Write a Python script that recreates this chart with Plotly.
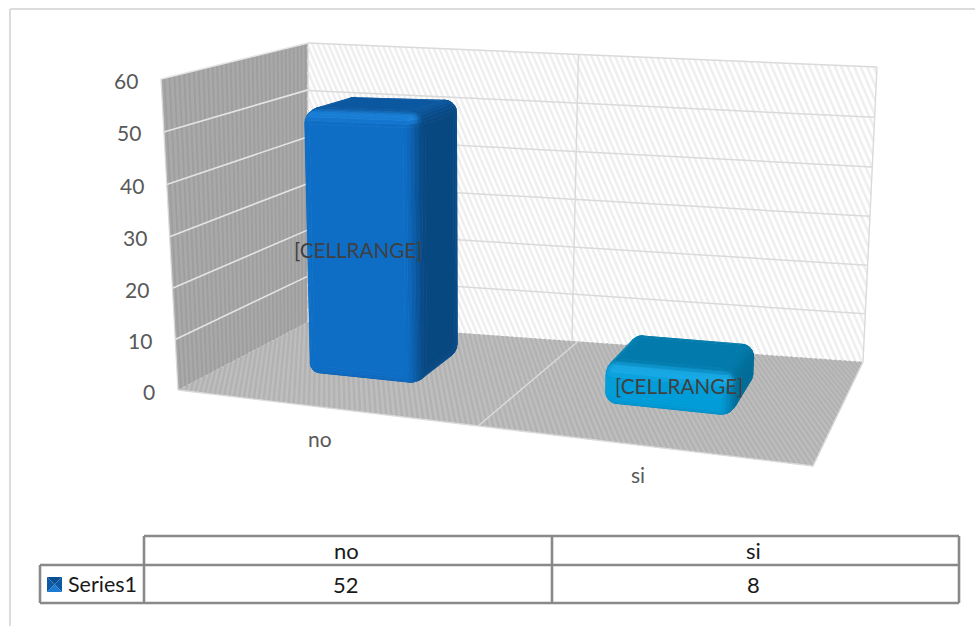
import numpy as np
import plotly.graph_objects as go

# chart data
categories = ["no", "si"]
series_name = "Series1"
series_values = [52, 8]
value_ticks = [0, 10, 20, 30, 40, 50, 60]
data_labels = ["[CELLRANGE]", "[CELLRANGE]"]
VALUE_MAX = 60

W, H = 975, 626
FONT = "Lato"

# box coordinates are (across, depth, height), each 0..1; these tie the box to the canvas
LEFT_WALL = [((0, 0), (178, 390)), ((1, 0), (308, 322)), ((1, 1), (308, 43)), ((0, 1), (161, 79))]
BACK_WALL = [((0, 0), (308, 322)), ((1, 0), (863, 362)), ((1, 1), (877, 67)), ((0, 1), (308, 43))]
FLOOR = [((0, 0), (178, 390)), ((1, 0), (813, 466)), ((1, 1), (863, 362)), ((0, 1), (308, 322))]
# softening of the perspective foreshortening along each box axis
LEFT_EASE = (0, 0, 0.095)
BACK_EASE = (-0.04, 0, 0)
FLOOR_EASE = (0.22, 0, 0)

# column footprint in box coordinates
BAR_HALF = 0.1
BAR_FRONT, BAR_BACK = 0.3, 0.7
COLUMN_VIEW = [
    ((0.15, 0.3, 0), (302, 377)), ((0.35, 0.3, 0), (425, 391)), ((0.35, 0.7, 0), (465, 353)),
    ((0.15, 0.3, 52 / 60), (295, 109)), ((0.35, 0.3, 52 / 60), (421, 116)),
    ((0.35, 0.7, 52 / 60), (461, 101)), ((0.15, 0.7, 52 / 60), (351, 93)),
    ((0.65, 0.3, 0), (592, 407)), ((0.85, 0.3, 0), (733, 428)), ((0.85, 0.7, 0), (757, 384)),
    ((0.65, 0.3, 8 / 60), (594, 363)), ((0.85, 0.3, 8 / 60), (737, 373)),
    ((0.85, 0.7, 8 / 60), (758, 339)), ((0.65, 0.7, 8 / 60), (635, 326)),
]


def solve_box_view(points):
    rows = []
    for (a, b, c), (x, y) in points:
        rows.append([a, b, c, 1, 0, 0, 0, 0, -x * a, -x * b, -x * c, -x])
        rows.append([0, 0, 0, 0, a, b, c, 1, -y * a, -y * b, -y * c, -y])
    return np.linalg.svd(np.array(rows, float))[2][-1].reshape(3, 4), (0, 0, 0)


def solve_plane_view(points, axes, ease):
    rows = []
    for (a, b), (x, y) in points:
        rows.append([a, b, 1, 0, 0, 0, -x * a, -x * b, -x])
        rows.append([0, 0, 0, a, b, 1, -y * a, -y * b, -y])
    hm = np.linalg.svd(np.array(rows, float))[2][-1].reshape(3, 3)
    view = np.zeros((3, 4))
    view[:, axes[0]] = hm[:, 0]
    view[:, axes[1]] = hm[:, 1]
    view[:, 3] = hm[:, 2]
    return view, ease


V_LEFT = solve_plane_view(LEFT_WALL, (1, 2), LEFT_EASE)
V_BACK = solve_plane_view(BACK_WALL, (0, 2), BACK_EASE)
V_FLOOR = solve_plane_view(FLOOR, (0, 1), FLOOR_EASE)
V_COLUMN = solve_box_view(COLUMN_VIEW)


def project(points, view):
    matrix, ease = view
    pts = np.atleast_2d(np.asarray(points, float))
    pts = pts + np.array(ease) * pts * (1 - pts)
    hom = matrix @ np.c_[pts, np.ones(len(pts))].T
    return hom[0] / hom[2], hom[1] / hom[2]


def to_box(cat_pos, depth, value):
    """Map category position, depth fraction and axis value to box coordinates."""
    return (cat_pos / len(categories), depth, value / VALUE_MAX)


fig = go.Figure()


def polygon(points, view, fill, width=0.0):
    xs, ys = project(points, view)
    fig.add_trace(go.Scatter(
        x=np.r_[xs, xs[0]], y=np.r_[ys, ys[0]], mode="lines", fill="toself",
        fillcolor=fill, line=dict(color=fill, width=width),
        hoverinfo="skip", showlegend=False))


def polyline(segments, view, color, width):
    xs, ys = [], []
    for seg in segments:
        sx, sy = project(seg, view)
        xs += list(sx) + [None]
        ys += list(sy) + [None]
    fig.add_trace(go.Scatter(x=xs, y=ys, mode="lines", line=dict(color=color, width=width),
                             hoverinfo="skip", showlegend=False))


def clip_unit(p, d):
    t0, t1 = 0.0, 1.0
    for pi, di in zip(p, d):
        if abs(di) < 1e-12:
            if pi < 0 or pi > 1:
                return None
            continue
        a, b = sorted(((0 - pi) / di, (1 - pi) / di))
        t0, t1 = max(t0, a), min(t1, b)
    return (t0, t1) if t0 < t1 else None


def hatch(embed, view, start, stop, step, lean, color, width):
    """Parallel stripes across a wall given by embed(s, t) with s, t in 0..1."""
    segs = []
    for s0 in np.arange(start, stop, step):
        span = clip_unit((s0, 0.0), (lean, 1.0))
        if span:
            segs.append([embed(s0 + lean * span[0], span[0]), embed(s0 + lean * span[1], span[1])])
    polyline(segs, view, color, width)


# walls and floor
polygon([(0, 0, 0), (0, 1, 0), (0, 1, 1), (0, 0, 1)], V_LEFT, "#a9a9a9")
hatch(lambda s, t: (0, s, t), V_LEFT, -0.1, 1.1, 0.03, 0.0, "#9e9e9e", 1.8)
polygon([(0, 1, 0), (1, 1, 0), (1, 1, 1), (0, 1, 1)], V_BACK, "#ffffff")
hatch(lambda s, t: (s, 1, t), V_BACK, -0.02, 1.3, 0.0105, -0.235, "#efefef", 2.6)
polygon([(0, 0, 0), (1, 0, 0), (1, 1, 0), (0, 1, 0)], V_FLOOR, "#bebebe")
hatch(lambda s, t: (s, t, 0), V_FLOOR, -0.02, 1.3, 0.0085, -0.22, "#b2b2b2", 2.4)

# gridlines and wall edges
GRID = "#dadada"
polyline([[to_box(0, 0, v), to_box(0, 1, v)] for v in value_ticks[1:]], V_LEFT, "#e4e4e4", 1.6)
polyline([[to_box(0, 1, v), to_box(2, 1, v)] for v in value_ticks[1:]], V_BACK, GRID, 1.5)
polyline([[(0.5, 1, 0), (0.5, 1, 1)], [(1, 1, 0), (1, 1, 1)]], V_BACK, GRID, 1.4)
polyline([[(0.5, 0, 0), (0.5, 1, 0)], [(0, 0, 0), (1, 0, 0), (1, 1, 0)]], V_FLOOR, GRID, 1.4)
polyline([[(0, 0, 0), (0, 0, 1)], [(0, 1, 0), (0, 1, 1)]], V_LEFT, GRID, 1.2)


def mix(c1, c2, t):
    return tuple(a + (b - a) * t for a, b in zip(c1, c2))


def rounded_column(u0, u1, v0, v1, w1, radii, palette):
    """Rounded column: facets lit by their normal, only camera-facing ones are drawn."""
    rad = np.array(radii)
    lo = np.array([u0, v0, 0.0])
    hi = np.array([u1, v1, w1])
    steps = 6
    quarter = np.linspace(0, np.pi / 2, steps + 1)
    az = np.r_[quarter, quarter + np.pi / 2, quarter + np.pi, quarter + 1.5 * np.pi]
    el = np.r_[quarter - np.pi / 2, quarter]
    grid = np.zeros((len(el), len(az), 3))
    normal = np.zeros_like(grid)
    for i, e in enumerate(el):
        upper = i > steps
        for j, a in enumerate(az):
            octant = j // (steps + 1)
            n = np.array([np.cos(e) * np.cos(a), np.cos(e) * np.sin(a), np.sin(e)])
            sx = 1 if octant in (0, 3) else -1
            sy = 1 if octant in (0, 1) else -1
            base = [hi[0] - rad[0] if sx > 0 else lo[0] + rad[0],
                    hi[1] - rad[1] if sy > 0 else lo[1] + rad[1],
                    hi[2] - rad[2] if upper else lo[2] + rad[2]]
            grid[i, j] = np.array(base) + rad * n
            normal[i, j] = n
    F, R, T, HL, B = palette
    # flat top cap
    polygon([(lo[0] + rad[0], lo[1] + rad[1], hi[2]), (hi[0] - rad[0], lo[1] + rad[1], hi[2]),
             (hi[0] - rad[0], hi[1] - rad[1], hi[2]), (lo[0] + rad[0], hi[1] - rad[1], hi[2])],
            V_COLUMN, "rgb(%d,%d,%d)" % T, width=0.7)
    for i in range(len(el) - 1):
        for j in range(len(az)):
            j2 = (j + 1) % len(az)
            quad = [grid[i, j], grid[i, j2], grid[i + 1, j2], grid[i + 1, j]]
            xs, ys = project(quad, V_COLUMN)
            area = 0.5 * sum(xs[k] * ys[(k + 1) % 4] - xs[(k + 1) % 4] * ys[k] for k in range(4))
            if area >= -1e-6:
                continue
            n = (normal[i, j] + normal[i, j2] + normal[i + 1, j2] + normal[i + 1, j]) / 4
            n = n / (np.linalg.norm(n) + 1e-9)
            wr = max(n[0], 0) ** 2
            wl = max(-n[0], 0) ** 2
            wf = max(-n[1], 0) ** 2
            wb = max(n[1], 0) ** 2
            wt = max(n[2], 0) ** 2
            wd = max(-n[2], 0) ** 2
            tot = wr + wl + wf + wb + wt + wd
            col = tuple((wr * r + (wl + wf) * f + (wt + wb) * t + wd * b) / tot
                        for r, f, t, b in zip(R, F, T, B))
            glow = min(1.0, 3.2 * wf * wt + 14 * wf * wt * wr)
            col = mix(col, HL, glow)
            polygon(quad, V_COLUMN, "rgb(%d,%d,%d)" % col, width=0.7)


PALETTES = [
    ((14, 110, 198), (8, 72, 130), (11, 88, 160), (28, 134, 224), (10, 90, 165)),
    ((0, 157, 217), (0, 108, 152), (2, 123, 172), (30, 178, 240), (0, 130, 185)),
]
for k, val in enumerate(series_values):
    centre = (k + 0.5) / len(categories)
    rounded_column(centre - BAR_HALF, centre + BAR_HALF, BAR_FRONT, BAR_BACK,
                   val / VALUE_MAX, (0.02, 0.08, 0.042), PALETTES[k])

annotations = []


def label(x, y, text, size=21, color="#595959", anchor="center"):
    annotations.append(dict(x=x, y=y, text=text, showarrow=False, xanchor=anchor, yanchor="middle",
                            font=dict(family=FONT, size=size, color=color)))


# value axis labels beside the left wall
for v in value_ticks:
    xs, ys = project(to_box(0, 0, v), V_LEFT)
    label(xs[0] - 21, ys[0] + 1, str(v), anchor="right")
# category labels under the floor
CATEGORY_NUDGE = [(-3, 31), (-5, 29)]
for k, name in enumerate(categories):
    xs, ys = project(to_box(k + 0.5, 0, 0), V_FLOOR)
    label(xs[0] + CATEGORY_NUDGE[k][0], ys[0] + CATEGORY_NUDGE[k][1], name, size=21)
# data labels on the columns
LABEL_NUDGE = [(0, 0), (14, -7)]
for k, val in enumerate(series_values):
    xs, ys = project(to_box(k + 0.5, BAR_FRONT, val / 2), V_COLUMN)
    label(xs[0] + LABEL_NUDGE[k][0], ys[0] + LABEL_NUDGE[k][1], data_labels[k], size=20.6, color="#404040")

# data table below the plot
TX = (40, 144, 552, 959)
TY = (536, 565, 603)
shapes = [
    dict(type="line", xref="x", yref="y", x0=10, y0=9, x1=975, y1=9, line=dict(color="#dcdcdc", width=2)),
    dict(type="line", xref="x", yref="y", x0=10, y0=9, x1=10, y1=626, line=dict(color="#dcdcdc", width=2)),
]
TABLE_LINE = dict(color="#898989", width=2.6)
for seg in [(TX[1], TY[0], TX[3], TY[0]), (TX[0], TY[1], TX[3], TY[1]), (TX[0], TY[2], TX[3], TY[2]),
            (TX[0], TY[1], TX[0], TY[2]), (TX[1], TY[0], TX[1], TY[2]), (TX[2], TY[0], TX[2], TY[2]),
            (TX[3], TY[0], TX[3], TY[2])]:
    shapes.append(dict(type="line", xref="x", yref="y", x0=seg[0], y0=seg[1], x1=seg[2], y1=seg[3], line=TABLE_LINE))
for k, name in enumerate(categories):
    cx = (TX[k + 1] + TX[k + 2]) / 2 - 2
    label(cx, (TY[0] + TY[1]) / 2, name, size=22, color="#1a1a1a")
    label(cx, (TY[1] + TY[2]) / 2, str(series_values[k]), size=22, color="#1a1a1a")
label(65.5, (TY[1] + TY[2]) / 2, series_name, size=21.5, color="#1a1a1a", anchor="left")

# legend key
kx0, kx1, ky0, ky1 = 47, 62, 577, 592
kcx, kcy = (kx0 + kx1) / 2, (ky0 + ky1) / 2
for pts, col in [(((kx0, ky0), (kx1, ky0)), "#0a4f8f"), (((kx1, ky0), (kx1, ky1)), "#0c5aa3"),
                 (((kx1, ky1), (kx0, ky1)), "#1c7bd0"), (((kx0, ky1), (kx0, ky0)), "#0c5aa3")]:
    path = "M%g,%g L%g,%g L%g,%g Z" % (pts[0][0], pts[0][1], pts[1][0], pts[1][1], kcx, kcy)
    shapes.append(dict(type="path", xref="x", yref="y", path=path, fillcolor=col, line=dict(width=0)))

fig.update_layout(
    width=W, height=H, margin=dict(l=0, r=0, t=0, b=0), paper_bgcolor="white", plot_bgcolor="white",
    xaxis=dict(range=[0, W], visible=False, fixedrange=True),
    yaxis=dict(range=[H, 0], visible=False, fixedrange=True),
    showlegend=False, shapes=shapes, annotations=annotations)
fig.write_html("out.html", config=dict(displayModeBar=False))
